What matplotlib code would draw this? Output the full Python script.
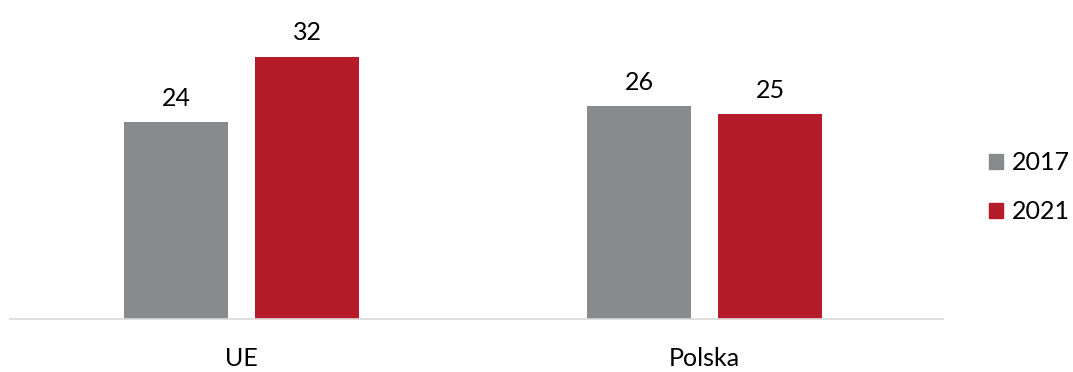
import matplotlib.pyplot as plt
import numpy as np
from matplotlib.patches import Patch

categories = ["UE", "Polska"]
years = ["2017", "2021"]
values_2017 = [24, 26]
values_2021 = [32, 25]

colors = {"2017": "#878B8C", "2021": "#B51B29"}

plt.rcParams["font.family"] = ["Lato", "DejaVu Sans"]

fig = plt.figure(figsize=(10.73, 3.72), dpi=100)
ax = fig.add_axes([10 / 1073, 53 / 372, 933 / 1073, 309 / 372])

x = np.arange(len(categories))
width = 0.225
offset = 0.1415
for vals, year, sign in [(values_2017, "2017", -1), (values_2021, "2021", 1)]:
    bars = ax.bar(x + sign * offset, vals, width=width, color=colors[year], label=year)
    for b, v in zip(bars, vals):
        ax.text(b.get_x() + b.get_width() / 2, v + 1.5, f"{v}", ha="center", va="bottom",
                fontsize=18, color="#000000")

ax.set_xlim(-0.5, 1.515)
ax.set_ylim(0, 37.7)
ax.set_xticks(x)
ax.set_xticklabels(categories, fontsize=18)
ax.tick_params(axis="x", length=0, pad=20)
ax.set_yticks([])
for s in ["top", "right", "left"]:
    ax.spines[s].set_visible(False)
ax.spines["bottom"].set_color("#D9D9D9")
ax.spines["bottom"].set_linewidth(1.2)

handles = [Patch(color=colors[y]) for y in years]
fig.legend(handles, years, loc="center left", bbox_to_anchor=(972 / 1073, 0.497),
           frameon=False, fontsize=18, handlelength=0.55, handleheight=0.55,
           handletextpad=0.35, labelspacing=1.05, borderpad=0.2)

fig.savefig("out.png", dpi=100)
